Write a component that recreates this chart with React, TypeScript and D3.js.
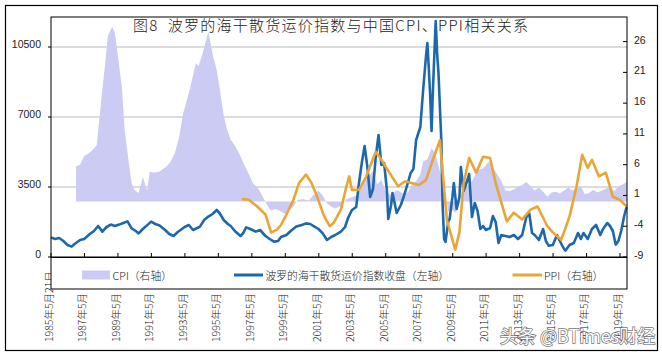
import React from "react";
import * as d3 from "d3";

const W = 662;
const H = 356;

const titleText = "图8  波罗的海干散货运价指数与中国CPI、PPI相关关系";
const legendLabels = ["CPI（右轴）", "波罗的海干散货运价指数收盘（左轴）", "PPI（右轴）"];
const xTickYears = [1985, 1987, 1989, 1991, 1993, 1995, 1997, 1999, 2001, 2003, 2005, 2007, 2009, 2011, 2013, 2015, 2017, 2019];
const leftTicks = [0, 3500, 7000, 10500];
const rightTicks = [-9, -4, 1, 6, 11, 16, 21, 26];

// China CPI YoY % (right axis)
const cpiData: [string, number][] = [
  ["1986-11-18", 5.7], ["1987-02", 6.0], ["1987-05", 7.4], ["1987-08", 7.8], ["1987-11", 8.4],
  ["1988-02", 9.2], ["1988-03", 11.5], ["1988-05", 16.0], ["1988-08", 22.5], ["1988-10", 27.0],
  ["1989-01", 28.4], ["1989-03", 27.4], ["1989-05", 24.0], ["1989-08", 18.6], ["1989-10", 11.6],
  ["1990-01", 6.2], ["1990-03", 3.0], ["1990-05", 1.9], ["1990-08", 1.4], ["1990-11", 4.0],
  ["1991-02", 1.8], ["1991-04", 4.9], ["1991-07", 4.7], ["1991-11", 4.9], ["1992-04", 5.7],
  ["1992-07", 6.5], ["1992-10", 7.9], ["1993-01", 10.5], ["1993-04", 14.4], ["1993-06", 16.0],
  ["1993-09", 18.6], ["1994-01", 22.5], ["1994-03", 22.0], ["1994-06", 24.2], ["1994-10", 27.6],
  ["1995-01", 24.0], ["1995-04", 21.4], ["1995-06", 18.6], ["1995-09", 14.0], ["1995-11", 12.0],
  ["1996-02", 10.0], ["1996-04", 9.5], ["1996-08", 7.9], ["1996-11", 6.3], ["1997-03", 4.5],
  ["1997-06", 3.0], ["1997-10", 2.0], ["1998-01", 0.8], ["1998-04", -0.5], ["1998-07", -1.5],
  ["1998-10", -1.2], ["1999-01", -1.5], ["1999-05", -2.0], ["1999-08", -1.4], ["1999-11", -0.8],
  ["2000-02", 0.3], ["2000-06", 0.4], ["2000-10", 0.2], ["2001-01", 1.0], ["2001-05", 1.8],
  ["2001-08", 1.0], ["2001-11", -0.3], ["2002-02", -0.8], ["2002-05", -1.1], ["2002-09", -0.7],
  ["2003-01", 0.4], ["2003-05", 0.7], ["2003-09", 1.1], ["2003-12", 3.0], ["2004-04", 3.8],
  ["2004-08", 5.0], ["2004-11", 2.8], ["2005-02", 3.5], ["2005-05", 1.8], ["2005-09", 1.0],
  ["2006-01", 1.9], ["2006-05", 1.4], ["2006-09", 1.5], ["2006-12", 2.8], ["2007-03", 3.3],
  ["2007-06", 4.4], ["2007-08", 6.5], ["2007-11", 6.9], ["2008-02", 8.7], ["2008-05", 7.7],
  ["2008-08", 4.9], ["2008-11", 2.4], ["2009-02", -1.6], ["2009-05", -1.4], ["2009-07", -1.8],
  ["2009-10", -0.5], ["2009-12", 1.9], ["2010-03", 2.4], ["2010-07", 3.3], ["2010-11", 5.1],
  ["2011-03", 5.4], ["2011-07", 6.5], ["2011-10", 5.5], ["2012-01", 4.5], ["2012-04", 3.4],
  ["2012-07", 1.8], ["2012-10", 1.7], ["2013-01", 2.0], ["2013-04", 2.4], ["2013-07", 2.7],
  ["2013-10", 3.2], ["2014-01", 2.5], ["2014-04", 1.8], ["2014-07", 2.3], ["2014-10", 1.6],
  ["2015-01", 0.8], ["2015-04", 1.5], ["2015-07", 1.6], ["2015-10", 1.3], ["2016-01", 1.8],
  ["2016-04", 2.3], ["2016-07", 1.8], ["2016-10", 2.1], ["2017-01", 2.5], ["2017-04", 1.2],
  ["2017-07", 1.4], ["2017-10", 1.9], ["2018-01", 1.5], ["2018-04", 1.8], ["2018-07", 2.1],
  ["2018-10", 2.5], ["2019-01", 1.7], ["2019-04", 2.5], ["2019-07", 2.8], ["2019-10-20", 3.2],
];

// China PPI YoY % (right axis)
const ppiData: [string, number][] = [
  ["1996-10", 0.4], ["1997-03", 0.3], ["1997-09", -0.8], ["1998-03", -2.1], ["1998-07", -5.0],
  ["1998-11", -4.6], ["1999-02", -3.8], ["1999-06", -2.1], ["1999-11", 0.3], ["2000-03", 3.0],
  ["2000-08", 4.4], ["2000-12", 3.0], ["2001-04", 0.8], ["2001-09", -2.4], ["2002-01", -4.0],
  ["2002-04", -3.4], ["2002-09", -1.3], ["2003-01", 2.5], ["2003-03", 4.1], ["2003-05", 1.9],
  ["2003-10", 1.9], ["2004-03", 4.0], ["2004-10", 8.1], ["2005-02", 6.8], ["2005-07", 5.0],
  ["2006-02", 2.5], ["2006-07", 3.3], ["2007-05", 2.7], ["2007-10", 3.5], ["2008-03", 6.8],
  ["2008-08", 10.0], ["2008-10", 4.7], ["2009-01", -3.0], ["2009-07", -7.8], ["2009-10", -5.0],
  ["2010-01", 3.0], ["2010-05", 7.1], ["2010-10", 4.7], ["2011-03", 7.3], ["2011-08", 7.1],
  ["2011-12", 3.0], ["2012-08", -3.2], ["2013-01", -1.8], ["2013-07", -2.9], ["2014-01", -1.3],
  ["2014-06", -0.8], ["2015-01", -4.0], ["2015-05", -5.0], ["2015-11", -6.2], ["2016-05", -2.4],
  ["2016-10", 2.5], ["2017-02", 7.6], ["2017-06", 5.5], ["2017-09", 6.8], ["2018-02", 4.1],
  ["2018-07", 4.7], ["2018-12", 0.8], ["2019-05", 0.3], ["2019-10-15", -0.8],
];

// Baltic Dry Index close (left axis)
const bdiData: [string, number][] = [
  ["1985-05-21", 980], ["1985-08", 900], ["1985-11", 950], ["1986-02", 800], ["1986-05", 600],
  ["1986-08", 520], ["1986-11", 700], ["1987-02", 850], ["1987-05", 900], ["1987-09", 1150],
  ["1987-12", 1300], ["1988-03", 1550], ["1988-06", 1270], ["1988-09", 1500], ["1988-12", 1620],
  ["1989-03", 1550], ["1989-06", 1620], ["1989-09", 1700], ["1989-12", 1780], ["1990-03", 1430],
  ["1990-06", 1300], ["1990-08", 1180], ["1990-11", 1400], ["1991-01", 1520], ["1991-05", 1770],
  ["1991-08", 1650], ["1991-11", 1580], ["1992-03", 1350], ["1992-06", 1150], ["1992-09", 1050],
  ["1992-12", 1250], ["1993-02", 1350], ["1993-05", 1500], ["1993-08", 1600], ["1993-11", 1350],
  ["1994-02", 1450], ["1994-04", 1520], ["1994-07", 1850], ["1994-10", 2020], ["1995-01", 2150],
  ["1995-04", 2350], ["1995-06", 2200], ["1995-09", 1850], ["1995-12", 1650], ["1996-02", 1550],
  ["1996-05", 1300], ["1996-09", 1050], ["1996-11", 1200], ["1997-01", 1480], ["1997-04", 1400],
  ["1997-08", 1270], ["1997-11", 1350], ["1998-03", 1050], ["1998-06", 900], ["1998-09", 770],
  ["1998-12", 800], ["1999-02", 1000], ["1999-06", 1100], ["1999-09", 1300], ["2000-01", 1520],
  ["2000-05", 1600], ["2000-08", 1680], ["2000-11", 1650], ["2001-02", 1520], ["2001-05", 1400],
  ["2001-08", 1180], ["2001-11", 850], ["2002-02", 1000], ["2002-05", 1100], ["2002-09", 1270],
  ["2002-12", 1500], ["2003-02", 1930], ["2003-05", 2350], ["2003-08", 2500], ["2003-10", 3700],
  ["2003-12", 4700], ["2004-02", 5550], ["2004-04", 4500], ["2004-06", 3000], ["2004-08", 3400],
  ["2004-10", 5000], ["2004-12", 6100], ["2005-02", 4600], ["2005-04", 4700], ["2005-06", 3350],
  ["2005-07", 1900], ["2005-09", 2600], ["2005-10", 3200], ["2006-01", 2200], ["2006-04", 2600],
  ["2006-06", 3000], ["2006-09", 3700], ["2006-11", 4200], ["2007-01", 4400], ["2007-03", 5850],
  ["2007-06", 6500], ["2007-08", 8350], ["2007-10", 10000], ["2007-11", 10700], ["2007-12", 9500],
  ["2008-01", 8100], ["2008-02", 6300], ["2008-03", 8300], ["2008-05", 11800], ["2008-06", 10200],
  ["2008-07", 9200], ["2008-08", 7500], ["2008-09", 5800], ["2008-10", 2500], ["2008-11", 900],
  ["2008-12", 750], ["2009-02", 1800], ["2009-03", 1900], ["2009-05", 3000], ["2009-06", 3700],
  ["2009-08", 2400], ["2009-10", 3000], ["2009-11", 4500], ["2010-01", 3300], ["2010-04", 3900],
  ["2010-05", 4150], ["2010-07", 2000], ["2010-09", 2700], ["2010-11", 2300], ["2011-01", 1400],
  ["2011-03", 1550], ["2011-05", 1350], ["2011-08", 1450], ["2011-10", 2050], ["2011-12", 1750],
  ["2012-02", 700], ["2012-04", 1100], ["2012-07", 1050], ["2012-10", 1000], ["2013-01", 1100],
  ["2013-04", 900], ["2013-07", 1100], ["2013-10", 2000], ["2013-12", 2200], ["2014-02", 1200],
  ["2014-04", 1100], ["2014-07", 850], ["2014-10", 1400], ["2014-12", 800], ["2015-02", 560],
  ["2015-05", 600], ["2015-08", 1100], ["2015-10", 800], ["2016-01", 400], ["2016-02", 320],
  ["2016-05", 600], ["2016-08", 700], ["2016-11", 1200], ["2017-01", 900], ["2017-03", 1200],
  ["2017-06", 900], ["2017-09", 1400], ["2017-12", 1600], ["2018-03", 1100], ["2018-05", 1400],
  ["2018-08", 1700], ["2018-10", 1550], ["2018-12", 1300], ["2019-02", 620], ["2019-04", 800],
  ["2019-06", 1300], ["2019-08", 2000], ["2019-10-10", 2500],
];

const parseDate = (s: string) => {
  const p = s.split("-").map(Number);
  return new Date(p[0], p[1] - 1, p.length > 2 ? p[2] : 15);
};

const CJK = "'Noto Sans CJK SC', 'Noto Sans', sans-serif";
const NUM = "'Liberation Sans', Arial, sans-serif";
const BLUE = "#1d68ad";
const ORANGE = "#e9a536";
const LAV = "#cbcbf4";

export default function App() {
  const left = 51, right = 627, top = 17, bottom = 257;
  const x = d3.scaleTime().domain([parseDate("1985-05-21"), parseDate("2019-10-20")]).range([left, right]);
  const yL = d3.scaleLinear().domain([0, 12000]).range([bottom, top]);
  const yR = d3.scaleLinear().domain([-9, 30]).range([bottom, top]);

  const cpi = cpiData.map(([d, v]) => ({ d: parseDate(d), v }));
  const ppi = ppiData.map(([d, v]) => ({ d: parseDate(d), v }));
  const bdi = bdiData.map(([d, v]) => ({ d: parseDate(d), v }));

  const cpiArea = d3.area<{ d: Date; v: number }>().x((p) => x(p.d)).y0(yR(0)).y1((p) => yR(p.v))(cpi) || "";
  const ppiLine = d3.line<{ d: Date; v: number }>().x((p) => x(p.d)).y((p) => yR(p.v))(ppi) || "";
  const bdiLine = d3.line<{ d: Date; v: number }>().x((p) => x(p.d)).y((p) => yL(p.v))(bdi) || "";

  const tickDates = xTickYears.map((y) => new Date(y, 4, 21));

  return (
    <svg width={W} height={H} style={{ position: "absolute", left: 0, top: 0, background: "#fff" }}>
      <rect x={0} y={0} width={W} height={H} fill="#fff" />
      {leftTicks.filter((t) => t > 0).map((t) => (
        <line key={t} x1={left} x2={right} y1={yL(t)} y2={yL(t)} stroke="#b9b9b9" strokeWidth={1} />
      ))}
      <path d={cpiArea} fill={LAV} stroke="none" />
      <path d={bdiLine} fill="none" stroke={BLUE} strokeWidth={2.6} strokeLinejoin="round" />
      <path d={ppiLine} fill="none" stroke={ORANGE} strokeWidth={2.6} strokeLinejoin="round" />

      <rect x={left} y={top} width={right - left} height={bottom - top} fill="none" stroke="#000" strokeWidth={1} />

      {leftTicks.map((t) => (
        <g key={t}>
          <line x1={left - 3} x2={left} y1={yL(t)} y2={yL(t)} stroke="#000" />
          <text x={41} y={yL(t) - 3} textAnchor="end" dominantBaseline="central" fontFamily={NUM} fontSize={10.5} fill="#222">
            {t}
          </text>
        </g>
      ))}
      {rightTicks.map((t) => (
        <g key={t}>
          <line x1={right - 4} x2={right} y1={yR(t)} y2={yR(t)} stroke="#000" />
          <text x={634} y={yR(t) - 2} textAnchor="start" dominantBaseline="central" fontFamily={NUM} fontSize={10.5} fill="#222">
            {t}
          </text>
        </g>
      ))}
      {tickDates.map((d, i) => (
        <line key={i} x1={x(d)} x2={x(d)} y1={bottom} y2={bottom - 4} stroke="#000" />
      ))}
      {tickDates.map((d, i) => (
        <text
          key={i}
          transform={`translate(${x(d) - 2.6},342) rotate(-90)`}
          textAnchor="start"
          dominantBaseline="central"
          fontFamily={CJK}
          fontWeight={300}
          fontSize={10.5}
          fill="#222"
        >
          {i === 0 ? `${xTickYears[i]}年5月21日` : `${xTickYears[i]}年5月`}
        </text>
      ))}

      <rect x={left} y={257.5} width={right - left} height={31.5} fill="#fff" stroke="#000" strokeWidth={1} />
      <rect x={82} y={270.5} width={28} height={9} fill={LAV} />
      <text x={112.5} y={275} dominantBaseline="central" fontFamily={CJK} fontWeight={300} fontSize={10.8} fill="#222">{legendLabels[0]}</text>
      <line x1={234} x2={263} y1={275} y2={275} stroke={BLUE} strokeWidth={3} />
      <text x={265.5} y={275} dominantBaseline="central" fontFamily={CJK} fontWeight={300} fontSize={10.8} fill="#222">{legendLabels[1]}</text>
      <line x1={512.5} x2={542} y1={275} y2={275} stroke={ORANGE} strokeWidth={3} />
      <text x={544} y={275} dominantBaseline="central" fontFamily={CJK} fontWeight={300} fontSize={10.8} fill="#222">{legendLabels[2]}</text>

      <text
        x={330.5}
        y={31}
        textAnchor="middle"
        fontFamily={CJK}
        fontWeight={300}
        fontSize={15}
        fill="#222"
        textLength={395}
        lengthAdjust="spacing"
        style={{ whiteSpace: "pre" }}
      >
        {titleText}
      </text>

      <rect x={5.5} y={5.5} width={652} height={345} fill="none" stroke="#000" strokeWidth={1.2} />

      <text
        x={500}
        y={343}
        fontFamily={CJK}
        fontSize={18}
        fill="#fff"
        stroke="#6a6a6a"
        strokeWidth={1.4}
        paintOrder="stroke"
        opacity={0.92}
      >
        头条 @BTimes财经
      </text>
    </svg>
  );
}
